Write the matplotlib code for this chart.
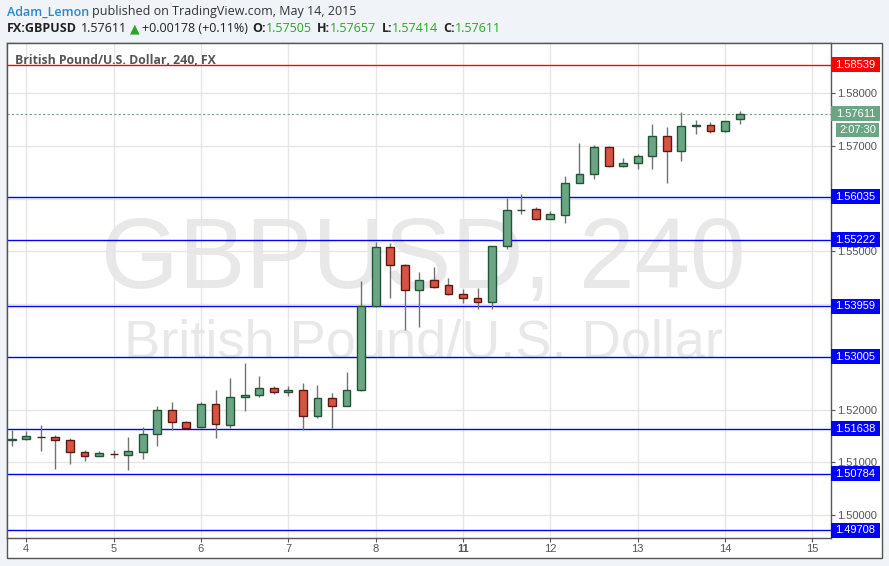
import matplotlib
matplotlib.use("Agg")
import matplotlib.pyplot as plt
from matplotlib.patches import Rectangle
from matplotlib.transforms import blended_transform_factory

W, H = 889, 566

# GBPUSD 240-minute bars, May 4 - May 14 2015 (index 0 = last bar of May 3)
opens = [1.51422, 1.51436, 1.51482, 1.51474, 1.51417, 1.51189, 1.51125, 1.51160, 1.51144, 1.51200,
         1.51531, 1.51986, 1.51758, 1.51663, 1.52100, 1.51713, 1.52233, 1.52271, 1.52403, 1.52327,
         1.52365, 1.51884, 1.52214, 1.52073, 1.52365, 1.53959, 1.55078, 1.54737, 1.54263, 1.54452,
         1.54358, 1.54187, 1.54111, 1.54035, 1.55097, 1.55780, 1.55799, 1.55621, 1.55697, 1.56292,
         1.56463, 1.56976, 1.56615, 1.56672, 1.56805, 1.57184, 1.56911, 1.57380, 1.57393, 1.57279,
         1.57505]
highs = [1.51612, 1.51593, 1.51707, 1.51517, 1.51460, 1.51233, 1.51208, 1.51233, 1.51479, 1.51663,
         1.52068, 1.52143, 1.51783, 1.52138, 1.52365, 1.52598, 1.52883, 1.52637, 1.52441, 1.52441,
         1.52498, 1.52460, 1.52309, 1.52712, 1.54439, 1.55185, 1.55160, 1.54756, 1.54604, 1.54699,
         1.54490, 1.54282, 1.54300, 1.55100, 1.56014, 1.56090, 1.55843, 1.55767, 1.56431, 1.57057,
         1.57019, 1.57000, 1.56773, 1.56848, 1.57418, 1.57361, 1.57645, 1.57493, 1.57455, 1.57475,
         1.57657]
lows = [1.51314, 1.51430, 1.51220, 1.50878, 1.50973, 1.51030, 1.51120, 1.51087, 1.50859, 1.51068,
        1.51314, 1.51618, 1.51650, 1.51655, 1.51466, 1.51656, 1.51978, 1.52244, 1.52301, 1.52263,
        1.51612, 1.51846, 1.51656, 1.52070, 1.52360, 1.53950, 1.54122, 1.53515, 1.53572, 1.54300,
        1.54180, 1.54027, 1.53902, 1.53902, 1.55040, 1.55716, 1.55602, 1.55615, 1.55545, 1.56290,
        1.56380, 1.56610, 1.56596, 1.56558, 1.56570, 1.56304, 1.56721, 1.57234, 1.57253, 1.57275,
        1.57414]
closes = [1.51432, 1.51493, 1.51476, 1.51417, 1.51189, 1.51125, 1.51170, 1.51154, 1.51208, 1.51531,
          1.51986, 1.51758, 1.51656, 1.52100, 1.51717, 1.52233, 1.52271, 1.52403, 1.52327, 1.52365,
          1.51884, 1.52214, 1.52073, 1.52365, 1.53959, 1.55078, 1.54737, 1.54263, 1.54452, 1.54320,
          1.54187, 1.54111, 1.54035, 1.55097, 1.55786, 1.55790, 1.55621, 1.55704, 1.56292, 1.56463,
          1.56976, 1.56615, 1.56672, 1.56805, 1.57184, 1.56911, 1.57374, 1.57390, 1.57279, 1.57469,
          1.57611]

day_labels = ["4", "5", "6", "7", "8", "11", "12", "13", "14", "15"]
day_bars = [1, 7, 13, 19, 25, 31, 37, 43, 49, 55]

price_ticks = [1.50, 1.51, 1.52, 1.53, 1.54, 1.55, 1.56, 1.57, 1.58]
level_prices = [1.58539, 1.56035, 1.55222, 1.53959, 1.53005, 1.51638, 1.50784, 1.49708]
level_colors = ["#ff0000", "#0000ff", "#0000ff", "#0000ff", "#0000ff", "#0000ff", "#0000ff", "#0000ff"]
last_price = 1.57611
countdown = "2:07:30"

UP_FILL, UP_EDGE = "#6ba583", "#225437"
DN_FILL, DN_EDGE = "#d75442", "#5b1a13"
AXCOL = "#555555"


def fx(x):
    return x / W


def fy(y):
    return 1 - y / H


fig = plt.figure(figsize=(W / 100, H / 100), dpi=100, facecolor="#f0f3f7")
fig.patches.append(Rectangle((fx(7), fy(558)), (882 - 7) / W, (558 - 43) / H,
                             transform=fig.transFigure, facecolor="white",
                             edgecolor=AXCOL, lw=1.0, zorder=-5))

ax = fig.add_axes([fx(7), fy(538), (831 - 7) / W, (538 - 43) / H])
ax.set_zorder(2)
ax.set_facecolor("white")
ax.set_xlim(-0.326, 56.28)
ax.set_ylim(1.49563, 1.58954)
for s in ax.spines.values():
    s.set_color(AXCOL)
    s.set_linewidth(1.0)

# the 1.56000 label sits completely under the 1.56035 box, so leave it blank
tick_text = ["" if abs(p - 1.56) < 1e-9 else "%.5f" % p for p in price_ticks]
ax.set_yticks(price_ticks)
ax.set_yticklabels(tick_text, family="Liberation Sans")
ax.yaxis.tick_right()
ax.set_xticks(day_bars)
ax.set_xticklabels(day_labels, family="Liberation Sans")
ax.get_xticklabels()[5].set_fontweight("bold")
ax.tick_params(axis="both", length=3, width=0.8, color=AXCOL, labelcolor=AXCOL, labelsize=8, pad=1.5)
ax.grid(color="#e6e6e6", lw=1.0, zorder=0)
ax.set_axisbelow(True)

# watermark
ax.text(0.5055, 0.557, "GBPUSD, 240", transform=ax.transAxes, ha="center", va="center",
        fontsize=72, color="#e8e8e8", family="Liberation Sans", zorder=0.5)
ax.text(0.5055, 0.392, "British Pound/U.S. Dollar", transform=ax.transAxes, ha="center", va="center",
        fontsize=39, color="#e8e8e8", family="Liberation Sans", zorder=0.5)

# horizontal levels
for p, c in zip(level_prices, level_colors):
    ax.axhline(p, color=c, lw=1.0, zorder=2)
ax.axhline(last_price, color=UP_FILL, lw=0.8, ls=(0, (2, 2)), zorder=2)

# candles
for i in range(len(opens)):
    o, h, l, c = opens[i], highs[i], lows[i], closes[i]
    up = c >= o
    ax.vlines(i, l, h, color="#737375", lw=1.0, zorder=3)
    ax.add_patch(Rectangle((i - 0.27, min(o, c)), 0.54, abs(c - o),
                           facecolor=UP_FILL if up else DN_FILL,
                           edgecolor=UP_EDGE if up else DN_EDGE, lw=1.0, zorder=4))

# price scale labels
dp = (1.58954 - 1.49563) / 495.0
tr = blended_transform_factory(fig.transFigure, ax.transData)
for p, c in zip(level_prices + [last_price], level_colors + [UP_FILL]):
    ax.add_patch(Rectangle((fx(831), p - 7.5 * dp), 49 / W, 15 * dp, transform=tr,
                           facecolor=c, edgecolor="none", clip_on=False, zorder=10))
    ax.text(fx(855.5), p, "%.5f" % p, transform=tr, ha="center", va="center", color="white",
            fontsize=8, family="Liberation Sans", clip_on=False, zorder=11)
cy = last_price - 16.5 * dp
ax.add_patch(Rectangle((fx(836), cy - 7 * dp), 43 / W, 14 * dp, transform=tr,
                       facecolor=UP_FILL, edgecolor="none", clip_on=False, zorder=10))
ax.text(fx(857.5), cy, countdown, transform=tr, ha="center", va="center", color="white",
        fontsize=8, family="Liberation Sans", clip_on=False, zorder=11)

# chart title inside the pane
ax.text(fx(15), fy(60), "British Pound/U.S. Dollar, 240, FX", transform=fig.transFigure,
        color=AXCOL, fontsize=8.8, fontweight="bold", family="Open Sans", va="center", zorder=12)

# header rows
rend = fig.canvas.get_renderer()


def put_row(pieces, x0, y0, size):
    x = x0
    for txt, color, weight, gap in pieces:
        t = fig.text(fx(x), fy(y0), txt, color=color, fontweight=weight, fontsize=size,
                     family=["Open Sans", "DejaVu Sans"], va="center")
        x = t.get_window_extent(rend).x1 + gap


GREEN = "#2aa52a"
put_row([("Adam_Lemon", "#2a87cf", "semibold", 3),
         ("published on TradingView.com, May 14, 2015", "#333333", "normal", 0)], 7, 12, 9)
put_row([("FX:GBPUSD", "#222222", "bold", 4),
         ("1.57611", "#222222", "normal", 3),
         ("\u25b2", GREEN, "normal", 2),
         ("+0.00178 (+0.11%)", "#222222", "normal", 5),
         ("O:", "#222222", "bold", 0), ("1.57505", GREEN, "normal", 5),
         ("H:", "#222222", "bold", 0), ("1.57657", GREEN, "normal", 5),
         ("L:", "#222222", "bold", 0), ("1.57414", GREEN, "normal", 5),
         ("C:", "#222222", "bold", 0), ("1.57611", GREEN, "normal", 0)], 7, 29, 9)

fig.savefig("out.png", dpi=100, facecolor=fig.get_facecolor())
